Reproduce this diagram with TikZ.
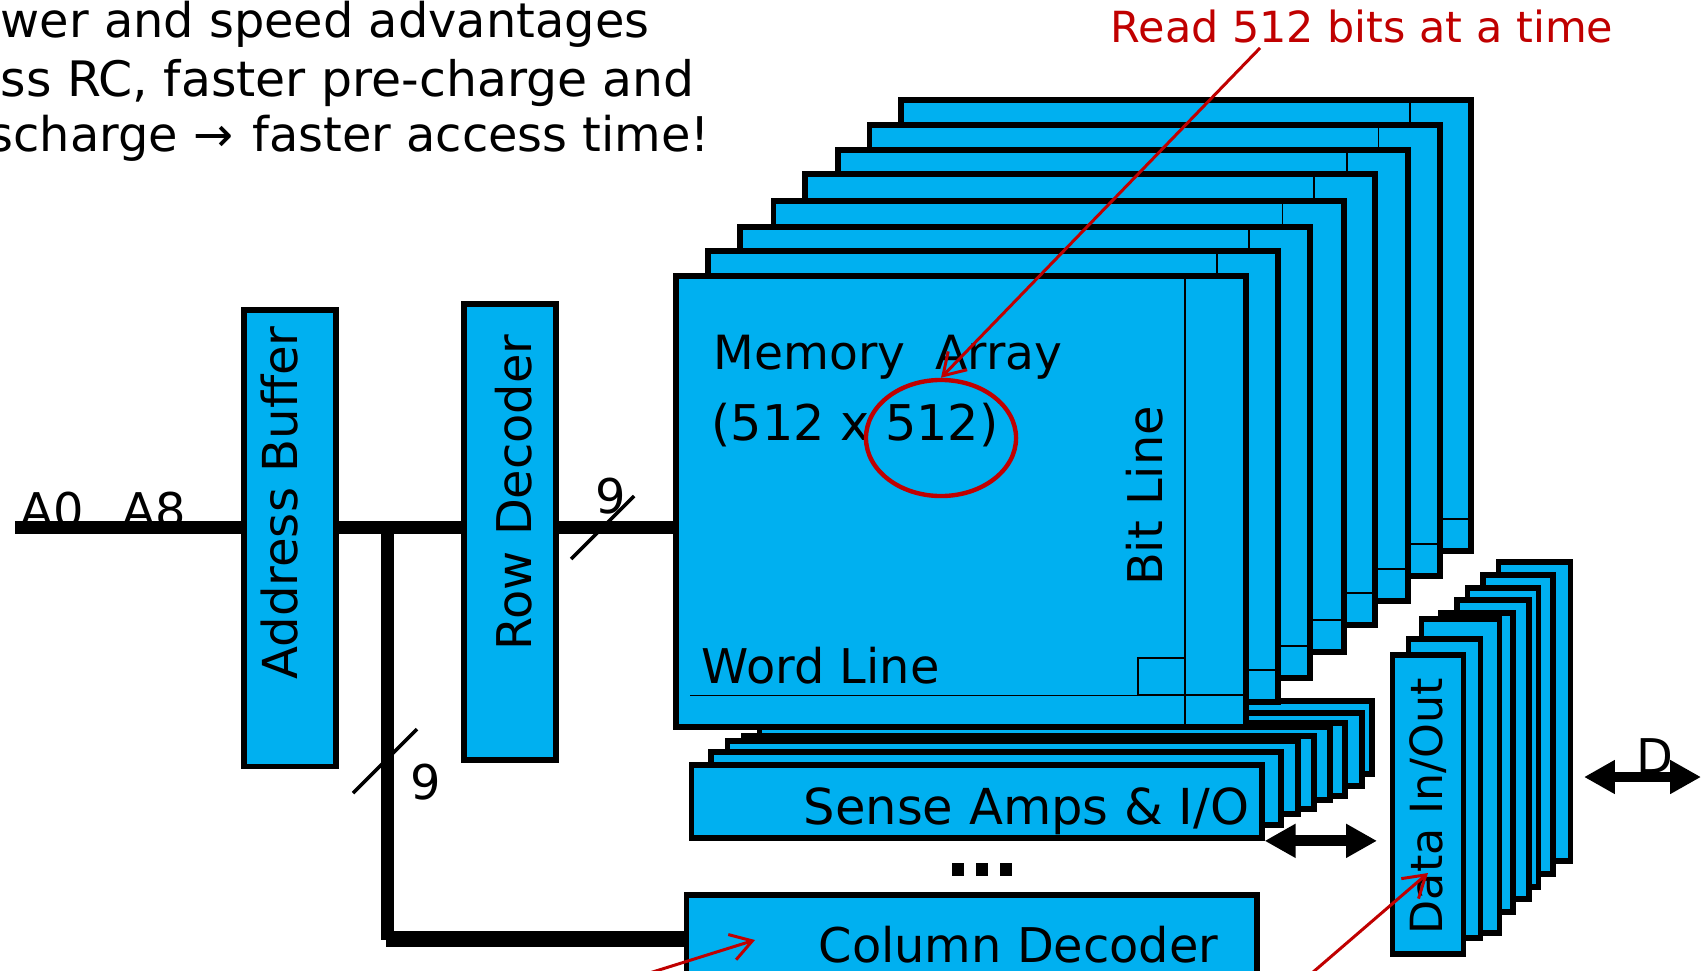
\documentclass[tikz,border=0pt]{standalone}
\usepackage{fontspec}
\setmainfont{DejaVu Sans}
\usetikzlibrary{arrows.meta,shapes.geometric}
\definecolor{chipblue}{RGB}{0,176,240}
\definecolor{notered}{RGB}{192,0,0}
\tikzset{
  sheetbox/.style={draw=black,fill=chipblue,line width=1.65pt,anchor=north west,inner sep=0pt},
  thinline/.style={line width=0.55pt},
  busline/.style={line width=3.7pt},
  bigarrow/.style={line width=3.1pt,{Triangle[length=8.8pt,width=9.1pt]}-{Triangle[length=8.8pt,width=9.1pt]}},
  notearrow/.style={draw=notered,line width=0.85pt,-{Straight Barb[length=6pt,width=7.5pt]}},
  slashline/.style={line width=1pt},
  lbl/.style={inner sep=0pt,font=\fontsize{13.6}{16}\selectfont},
}
\begin{document}
\begin{tikzpicture}[x=0.01cm,y=-0.01cm]
\useasboundingbox (0,0) rectangle (1704,970);
\clip (0,0) rectangle (1704,970);

% Heading text, cut off by the slide edge
\node[lbl,anchor=base west] (hdA) at (0,38) {wer and speed advantages};
\node[lbl,anchor=base west,font=\fontsize{13.9}{16}\selectfont] (hdB) at (0,97) {ss RC, faster pre-charge and};
\node[lbl,anchor=base west] (hdC) at (-12,152) {scharge →\hspace{1.05pt} faster access time!};
\node[lbl,anchor=base west,text=notered,font=\fontsize{12.2}{14}\selectfont] (readnote) at (1110,43) {Read 512 bits at a time};

% Sense amps stack, back to front
\foreach \sx/\sy [count=\i] in {798.5/698,788.5/710,771.5/720,756.5/724,740.5/733,724.5/738,708/749,688.5/762} {
  \node[sheetbox,minimum width=5.70cm,minimum height=0.73cm] (amp\i) at (\sx,\sy) {};
}

% Memory array stack, back to front
\foreach \mx/\my [count=\i] in {898/97,866.5/122,835/147,802/171,770.5/198,737/224,705/248,673/273} {
  \node[sheetbox,minimum width=5.70cm,minimum height=4.51cm] (mem\i) at (\mx,\my) {};
  \draw[thinline] (\mx+512,\my+5) -- (\mx+512,\my+453);
  \draw[thinline] (\mx+512,\my+422) -- (\mx+572,\my+422);
  \draw[thinline] (\mx+465,\my+385) rectangle (\mx+512,\my+422);
}
\draw[thinline] (690,695.5) -- (1185,695.5);

% Data in/out stack, back to front
\foreach \dx/\dy/\dw/\dh [count=\i] in {1495.6/559/0.72/2.99,1480.4/572/0.70/2.99,1464.5/585/0.71/2.99,1454/597/0.72/2.99,1438/610/0.72/2.99,1418.6/616/0.78/3.14,1405.5/636/0.72/2.99,1389.6/651.7/0.71/2.99} {
  \node[sheetbox,minimum width=\dw cm,minimum height=\dh cm] (dio\i) at (\dx,\dy) {};
}

% Blocks on the left
\node[sheetbox,minimum width=0.92cm,minimum height=4.56cm] (addr) at (241,307.3) {};
\node[sheetbox,minimum width=0.92cm,minimum height=4.56cm] (rowdec) at (461,301) {};
\node[sheetbox,minimum width=5.70cm,minimum height=1.30cm] (coldec) at (683.6,892) {};

% Labels and slashes that the bus runs over
\node[lbl,anchor=base west] (addrzero) at (20,527) {A0};
\node[lbl,anchor=base west] (addreight) at (122,527) {A8};
\coordinate (slashA) at (571,559);
\coordinate (slashB) at (634,496);
\coordinate (slashC) at (353,793);
\coordinate (slashD) at (417,729);
\draw[slashline] (slashA) -- (slashB);
\draw[slashline] (slashC) -- (slashD);

% Bus lines
\coordinate (busin) at (15,527.6);
\coordinate (busjoin) at (387.5,527.6);
\coordinate (buscorner) at (387.5,940);
\coordinate (busturn) at (386,939);
\draw[busline] (busin) -- (addr.west |- busin);
\draw[busline] (addr.east |- busin) -- (rowdec.west |- busin);
\draw[busline] (rowdec.east |- busin) -- (mem8.west |- busin);
\draw[busline] (busjoin) -- (buscorner);
\draw[busline,line width=4.5pt] (busturn) -- (coldec.west |- busturn);

% Block and bus labels
\node[lbl,rotate=90,font=\fontsize{13.7}{16}\selectfont] (addrtxt) at (280,503) {Address Buffer};
\node[lbl,rotate=90] (rowtxt) at (514,492.6) {Row Decoder};
\node[lbl,rotate=90] (bittxt) at (1145,496) {Bit Line};
\node[lbl,rotate=90,font=\fontsize{12.6}{14}\selectfont] (diotxt) at (1428.5,806) {Data In/Out};
\node[lbl,anchor=base west,font=\fontsize{13.4}{16}\selectfont] (memtxt) at (713,369) {Memory~ Array};
\node[lbl,anchor=base west,font=\fontsize{14}{16}\selectfont] (sizetxt) at (711,440) {(512 x 512)};
\node[lbl,anchor=base west] (wordtxt) at (701,683) {Word Line};
\node[lbl,anchor=base west,font=\fontsize{14.1}{16}\selectfont] (amptxt) at (803,824) {Sense Amps \& I/O};
\node[lbl,anchor=base west] (coltxt) at (818,962) {Column Decoder};
\node[lbl,anchor=base west] (nineA) at (595,513) {9};
\node[lbl,anchor=base west] (nineB) at (410,799) {9};
\node[lbl,anchor=base west] (datapin) at (1636,773) {D};

% The three dots
\node[fill=black,minimum width=0.12cm,minimum height=0.13cm,inner sep=0pt] (dotA) at (958,869) {};
\node[fill=black,minimum width=0.12cm,minimum height=0.13cm,inner sep=0pt] (dotB) at (982,869) {};
\node[fill=black,minimum width=0.12cm,minimum height=0.13cm,inner sep=0pt] (dotC) at (1006,869) {};

% Double arrows
\coordinate (dataL) at (1584,777);
\coordinate (dataR) at (1701,777);
\draw[bigarrow,shorten >=0.126cm] (amp8.south east) -- (dio8.west |- amp8.south east);
\draw[bigarrow] (dataL) -- (dataR);

% Red notes
\node[ellipse,draw=notered,line width=1.25pt,minimum width=1.50cm,minimum height=1.16cm,inner sep=0pt] (circ) at (941,438) {};
\coordinate (readfoot) at (1260,48);
\coordinate (coltail) at (627,980);
\coordinate (coltip) at (755,940);
\coordinate (diotail) at (1305,979);
\coordinate (diotip) at (1428,873);
\draw[notearrow] (readfoot) -- (circ.north);
\draw[notearrow] (coltail) -- (coltip);
\draw[notearrow] (diotail) -- (diotip);
\end{tikzpicture}
\end{document}
